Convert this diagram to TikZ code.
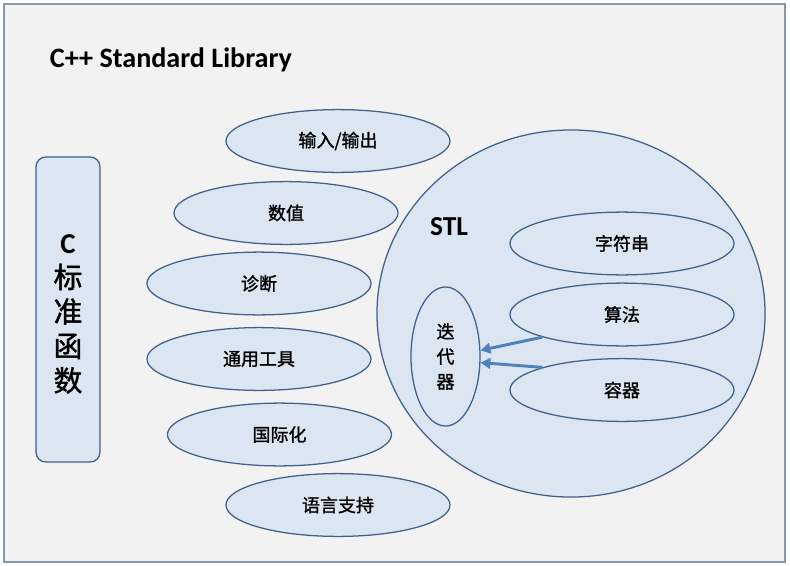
\documentclass[tikz,border=0pt]{standalone}
\usepackage{fontspec}
\setmainfont{Carlito}
\newfontfamily\cjk[FakeBold=1.3]{Noto Sans CJK SC}
\usetikzlibrary{shapes.geometric, arrows.meta}
\definecolor{frameLine}{HTML}{8497B0}
\definecolor{frameFill}{HTML}{F2F2F2}
\definecolor{shapeLine}{HTML}{41618A}
\definecolor{shapeFill}{HTML}{DCE6F2}
\definecolor{arrowBlue}{HTML}{4F81BD}
\tikzset{
    libEllipse/.style={ellipse, draw=shapeLine, fill=shapeFill, line width=0.9pt,
        inner sep=0pt, minimum width=5.6cm, minimum height=1.57cm,
        font=\cjk\fontsize{12.8}{15}\selectfont},
    cBox/.style={rectangle, rounded corners=7pt, draw=shapeLine, fill=shapeFill,
        line width=0.9pt, minimum width=1.6cm, minimum height=7.625cm, align=center,
        font=\fontsize{20.5}{24.5}\selectfont},
    linkArrow/.style={draw=arrowBlue, line width=2.1pt,
        -{Triangle[length=7pt, width=7.5pt]}}
}
\begin{document}
\begin{tikzpicture}[x=0.025cm, y=-0.025cm]
    \useasboundingbox (0,0) rectangle (790,566);
    \draw[frameLine, fill=frameFill, line width=1pt] (4,4) rectangle (785,562);
    \node[anchor=west, font=\bfseries\fontsize{20}{22}\selectfont] (title) at (45,60) {C++ Standard Library};
    \node[cBox] (cLib) at (68,309.5)
        {\rule{0pt}{20pt}\bfseries C\\ \cjk 标\\ \cjk 准\\ \cjk 函\\ \cjk 数};
    \node[libEllipse] (io) at (338,141) {输入/输出};
    \node[libEllipse] (numeric) at (286,213) {数值};
    \node[libEllipse] (diag) at (259,283.5) {诊断};
    \node[libEllipse] (util) at (259,359) {通用工具};
    \node[libEllipse] (locale) at (279.5,434.5) {国际化};
    \node[libEllipse] (lang) at (338,505) {语言支持};
    \node[ellipse, draw=shapeLine, fill=shapeFill, line width=0.9pt,
        minimum width=9.7cm, minimum height=9.175cm] (stl) at (571,313.5) {};
    \node[font=\bfseries\fontsize{19.5}{22}\selectfont] (stlLabel) at (449,227) {STL};
    \node[libEllipse] (str) at (622,243.5) {字符串};
    \node[libEllipse] (algo) at (622,314.5) {算法};
    \node[libEllipse] (cont) at (622,390) {容器};
    \node[libEllipse, minimum width=1.725cm, minimum height=3.475cm, align=center,
        font=\cjk\fontsize{12.8}{17.8}\selectfont] (iter) at (445.5,356.5) {迭\\代\\器};
    \draw[linkArrow] (algo.south west) -- (iter.10);
    \draw[linkArrow] (cont.north west) -- (iter.-10);
\end{tikzpicture}
\end{document}
